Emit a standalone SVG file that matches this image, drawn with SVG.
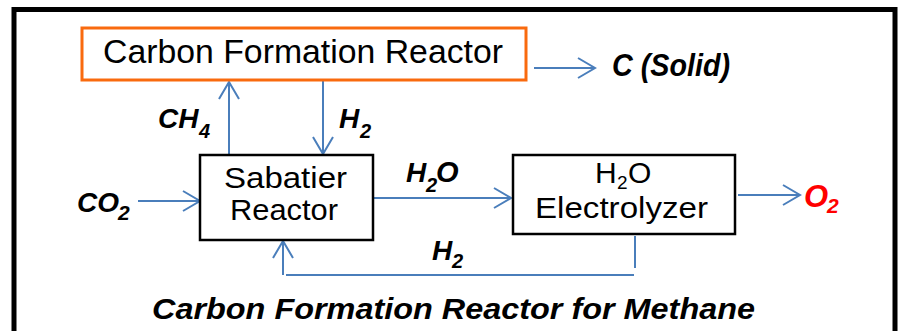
<svg xmlns="http://www.w3.org/2000/svg" width="898" height="331" viewBox="0 0 898 331">
<style>
.box{fill:#fff;stroke:#000;stroke-width:2.5}
.obox{fill:#fff;stroke:#F96A0E;stroke-width:3}
.t{font-family:"Liberation Sans",Arial,sans-serif;font-size:30px;fill:#000}
.b{font-family:"Liberation Sans",Arial,sans-serif;font-weight:bold;font-style:italic;font-size:28px;fill:#000}
.sub{font-size:20px}
.c{fill:none;stroke:#4A7EBB;stroke-width:2}
.ca{fill:none;stroke:#4A7EBB;stroke-width:2;marker-end:url(#ah)}
</style>
<defs>
<marker id="ah" markerUnits="userSpaceOnUse" markerWidth="24" markerHeight="24" refX="18" refY="11" orient="auto" viewBox="0 0 24 24">
<path d="M1,1 L18,11 L1,21" fill="none" stroke="#4A7EBB" stroke-width="2"/>
</marker>
</defs>
<rect width="898" height="331" fill="#fff"/>
<rect x="14" y="9.5" width="881" height="340" fill="none" stroke="#000" stroke-width="5"/>
<g id="connectors">
<path class="ca" d="M534,68 H595"/>
<path class="ca" d="M229,155 V82"/>
<path class="ca" d="M323,81 V154"/>
<path class="ca" d="M138,201 H200"/>
<path class="ca" d="M374,198 H511"/>
<path class="ca" d="M738,195 H800"/>
<path class="c" d="M635,236 V268"/>
<path class="c" d="M634,275 H286"/>
<path class="ca" d="M283,275 V241"/>
</g>
<g id="cfr">
<rect class="obox" x="82" y="28" width="444" height="52"/>
<text class="t" x="103" y="63" style="font-size:33.5px" textLength="400" lengthAdjust="spacingAndGlyphs">Carbon Formation Reactor</text>
</g>
<g id="sabatier">
<rect class="box" x="200" y="155" width="173" height="85"/>
<text class="t" x="224" y="188" textLength="123" lengthAdjust="spacingAndGlyphs">Sabatier</text>
<text class="t" x="230" y="220" textLength="108" lengthAdjust="spacingAndGlyphs">Reactor</text>
</g>
<g id="electrolyzer">
<rect class="box" x="513" y="155" width="222" height="79"/>
<text class="t" x="595" y="183">H</text>
<text class="t" x="617" y="189" style="font-size:19px">2</text>
<text class="t" x="628" y="183">O</text>
<text class="t" x="535" y="218" textLength="173" lengthAdjust="spacingAndGlyphs">Electrolyzer</text>
</g>
<g id="labels">
<text class="b" x="612" y="76" style="font-size:32px" textLength="118" lengthAdjust="spacingAndGlyphs">C (Solid)</text>
<text class="b" x="158" y="128">CH</text>
<text class="b sub" x="199" y="138">4</text>
<text class="b" x="339" y="128">H</text>
<text class="b sub" x="360" y="138">2</text>
<text class="b" x="77" y="212">CO</text>
<text class="b" x="118" y="220" style="font-size:21px">2</text>
<text class="b" x="406" y="182">H</text>
<text class="b sub" x="426" y="192">2</text>
<text class="b" x="436" y="182" style="font-size:29px">O</text>
<text class="b" x="804" y="207" style="font-size:31px;fill:#FF0000">O</text>
<text class="b" x="827" y="213" style="font-size:21px;fill:#FF0000">2</text>
<text class="b" x="432" y="260">H</text>
<text class="b sub" x="452" y="268">2</text>
<text class="b" x="152" y="319" style="font-size:30px" textLength="603" lengthAdjust="spacingAndGlyphs">Carbon Formation Reactor for Methane</text>
</g>
</svg>
